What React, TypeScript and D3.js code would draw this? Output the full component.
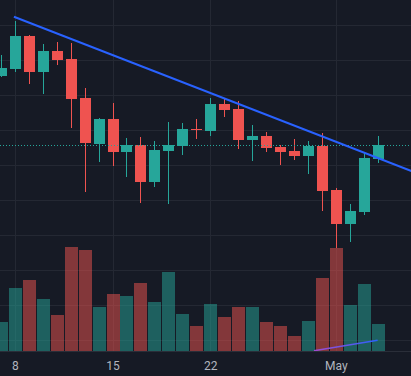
import React from "react";
import * as d3 from "d3";

const W = 411;
const H = 376;

// Daily candles, Apr 7 .. May 4
const opens = [85.3, 87.2, 96.7, 86.5, 92.4, 90.1, 78.9, 65.9, 72.9, 63.6, 65.5, 55.0, 63.9, 65.3, 70.1, 69.6, 77.2, 75.8, 67.0, 68.1, 64.9, 63.8, 62.5, 65.2, 52.7, 43.0, 46.5, 61.6];
const highs = [91.2, 100.9, 97.0, 94.4, 94.9, 94.7, 81.8, 73.3, 77.5, 67.6, 67.8, 66.7, 72.1, 71.8, 72.9, 78.9, 78.7, 78.1, 71.2, 69.2, 65.5, 67.2, 66.7, 68.9, 53.2, 48.7, 63.3, 68.1];
const lows = [85.0, 86.5, 83.0, 80.2, 88.5, 70.5, 52.2, 60.7, 59.6, 56.5, 48.9, 53.6, 48.7, 62.7, 67.3, 68.2, 73.6, 64.5, 61.0, 63.6, 59.9, 61.3, 57.3, 46.7, 36.1, 37.8, 45.6, 60.5];
const closes = [87.5, 96.7, 86.5, 92.4, 89.8, 78.7, 66.2, 72.9, 63.6, 65.5, 55.0, 64.1, 65.5, 70.1, 70.0, 77.2, 75.6, 67.0, 68.1, 64.7, 63.6, 62.5, 65.2, 52.5, 43.0, 46.7, 61.8, 65.5];
const volumes = [290, 630, 710, 520, 360, 1040, 1010, 440, 570, 550, 680, 490, 790, 370, 250, 470, 340, 440, 440, 290, 250, 150, 300, 730, 1030, 460, 670, 270];

const tickIdx = [1, 8, 15, 24];
const tickLabels = ["8", "15", "22", "May"];
const priceGrid = [100, 90, 80, 70, 60, 50, 40, 30, 20, 10];

// trend line anchors (index, price)
const trendIdx = [0.9, 27];
const trendPrice = [102.2, 61.8];
// small indicator line in volume pane (index, volume)
const miniIdx = [22.4, 26.96];
const miniVol = [3, 107];

const UP = "#26a69a";
const DOWN = "#ef5350";
const BG = "#161a25";
const GRID = "#242833";

export default function App() {
  const n = closes.length;
  const x = d3.scaleLinear().domain([0, n - 1]).range([1.35, 1.35 + 13.957 * (n - 1)]);
  const y = d3.scaleLinear().domain([100, 10]).range([24.5, 339.5]);
  const yv = d3.scaleLinear().domain([0, 1200]).range([351, 231]);

  const slope = (trendPrice[1] - trendPrice[0]) / (trendIdx[1] - trendIdx[0]);
  const idxRight = x.invert(W + 2);
  const trendEndPrice = trendPrice[0] + slope * (idxRight - trendIdx[0]);
  const trendPath = d3.line<[number, number]>()
    .x((d) => x(d[0]))
    .y((d) => y(d[1]))([
      [trendIdx[0], trendPrice[0]],
      [idxRight, trendEndPrice],
    ]);
  const miniPath = d3.line<[number, number]>()
    .x((d) => x(d[0]))
    .y((d) => yv(d[1]))([
      [miniIdx[0], miniVol[0]],
      [miniIdx[1], miniVol[1]],
    ]);

  const last = closes[n - 1];

  return (
    <svg
      width={W}
      height={H}
      style={{ position: "absolute", left: 0, top: 0, display: "block" }}
    >
      <defs>
        <linearGradient id="mini" x1="0" x2="1" y1="0" y2="0">
          <stop offset="0" stopColor="#a24bd1" />
          <stop offset="1" stopColor="#2962ff" />
        </linearGradient>
      </defs>
      <rect x={0} y={0} width={W} height={H} fill={BG} />
      {priceGrid.map((p) => (
        <line key={"h" + p} x1={0} x2={W} y1={Math.round(y(p)) + 0.5} y2={Math.round(y(p)) + 0.5} stroke={GRID} strokeWidth={1} />
      ))}
      {tickIdx.map((t) => (
        <line key={"v" + t} x1={Math.floor(x(t)) + 0.5} x2={Math.floor(x(t)) + 0.5} y1={0} y2={351} stroke={GRID} strokeWidth={1} />
      ))}
      {/* volume */}
      {volumes.map((v, i) => {
        const xp = Math.floor(x(i));
        const up = closes[i] >= opens[i];
        return (
          <rect
            key={"vol" + i}
            x={xp - 6}
            width={13}
            y={Math.round(yv(v))}
            height={Math.round(yv(0)) - Math.round(yv(v))}
            fill={up ? UP : DOWN}
            fillOpacity={0.5}
          />
        );
      })}
      <path d={miniPath || ""} stroke="url(#mini)" strokeWidth={1.6} fill="none" />
      {/* candles */}
      {closes.map((c, i) => {
        const o = opens[i];
        const up = c >= o;
        const col = up ? UP : DOWN;
        const xp = Math.floor(x(i));
        const top = Math.round(y(Math.max(o, c)));
        const bot = Math.round(y(Math.min(o, c)));
        return (
          <g key={"c" + i}>
            <rect x={xp} width={1} y={Math.round(y(highs[i]))} height={Math.max(1, Math.round(y(lows[i])) - Math.round(y(highs[i])))} fill={col} />
            <rect x={xp - 5} width={11} y={top} height={Math.max(1, bot - top)} fill={col} />
          </g>
        );
      })}
      <line x1={0} x2={W} y1={Math.round(y(last)) + 0.5} y2={Math.round(y(last)) + 0.5} stroke={UP} strokeWidth={1} strokeDasharray="1 2" />
      <path d={trendPath || ""} stroke="#2962ff" strokeWidth={2} fill="none" />
      {/* time axis */}
      <rect x={0} y={351} width={W} height={H - 351} fill={BG} />
      <line x1={0} x2={W} y1={351.5} y2={351.5} stroke="#2a2e39" strokeWidth={1} />
      {tickIdx.map((t, k) => (
        <text
          key={"t" + t}
          x={x(t)}
          y={370}
          textAnchor="middle"
          fill="#b2b5be"
          fontSize={12}
          fontFamily="Roboto, 'DejaVu Sans', sans-serif"
        >
          {tickLabels[k]}
        </text>
      ))}
    </svg>
  );
}
